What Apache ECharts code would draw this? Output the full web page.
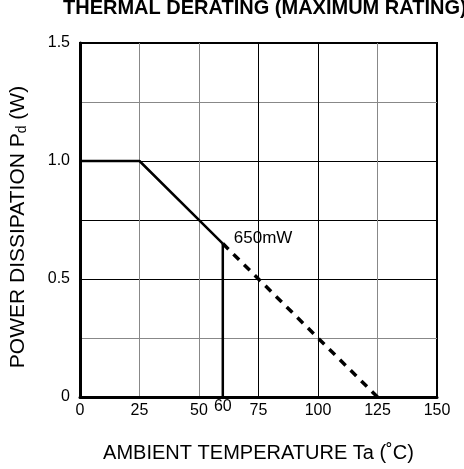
<!DOCTYPE html>
<html>
<head>
<meta charset="utf-8">
<script src="https://cdn.jsdelivr.net/npm/echarts@6/dist/echarts.min.js"></script>
<style>
  html, body { margin: 0; padding: 0; background: #fff; }
  #chart { width: 464px; height: 469px; }
</style>
</head>
<body>
<div id="chart"></div>
<script>
// derating curve (Ta in degC, Pd in W)
var flatPart = [[0, 1.0], [25, 1.0], [60, 0.65]];
var cutoffPart = [[60, 0.65], [60, 0]];
var extendedPart = [[60, 0.65], [125, 0]];
var xTicks = [0, 25, 50, 75, 100, 125, 150];
var extraXTick = [60];
var pointLabel = '650mW';

var chart = echarts.init(document.getElementById('chart'));
var font = 'Liberation Sans, Arial, sans-serif';

var option = {
  animation: false,
  title: {
    text: 'THERMAL DERATING (MAXIMUM RATING)',
    left: 58,
    top: -7,
    textStyle: { fontFamily: font, fontSize: 20, fontWeight: 'bold', color: '#000' }
  },
  grid: {
    left: 80, right: 27, top: 43, bottom: 72,
    show: true, borderColor: '#000', borderWidth: 2
  },
  xAxis: [{
    type: 'value', min: 0, max: 150, interval: 25,
    axisLine: { show: true, onZero: false, lineStyle: { color: '#000', width: 3 } },
    axisTick: { show: false },
    splitLine: { show: true, lineStyle: { width: 1, color: ['#000', '#888', '#888', '#000', '#000', '#888', '#000'] } },
    axisLabel: { color: '#000', fontFamily: font, fontSize: 16, margin: 6, customValues: xTicks },
    name: 'AMBIENT TEMPERATURE Ta (˚C)',
    nameLocation: 'middle', nameGap: 46,
    nameTextStyle: { color: '#000', fontFamily: font, fontSize: 20 }
  }, {
    type: 'value', min: 0, max: 150, position: 'bottom',
    axisLine: { show: false }, axisTick: { show: false }, splitLine: { show: false },
    axisLabel: { color: '#000', fontFamily: font, fontSize: 16, margin: 2, customValues: extraXTick }
  }],
  yAxis: {
    type: 'value', min: 0, max: 1.5, interval: 0.25,
    axisLine: { show: true, onZero: false, lineStyle: { color: '#000', width: 3 } },
    axisTick: { show: false },
    splitLine: { show: true, lineStyle: { width: 1, color: ['#000', '#888', '#000', '#000', '#000', '#888', '#000'] } },
    axisLabel: {
      color: '#000', fontFamily: font, fontSize: 16, margin: 10,
      formatter: function (v) {
        if (v === 0) return '0';
        if (Math.round(v * 4) % 2) return '';
        return v.toFixed(1);
      }
    },
    name: '{n|POWER DISSIPATION P}{s|d}{n| (W)}',
    nameLocation: 'middle', nameGap: 51,
    nameTextStyle: {
      color: '#000', fontFamily: font, fontSize: 21, padding: [0, 14, 0, 0],
      rich: {
        n: { color: '#000', fontFamily: font, fontSize: 21 },
        s: { color: '#000', fontFamily: font, fontSize: 14, verticalAlign: 'bottom', padding: [7, 0, 0, 0] }
      }
    }
  },
  series: [{
    type: 'line', data: flatPart.map(function (p, i) {
      if (i === flatPart.length - 1) {
        return { value: p, label: { show: true, formatter: pointLabel, position: [11, -14],
          color: '#000', fontFamily: font, fontSize: 17 } };
      }
      return p;
    }),
    showSymbol: true, symbol: 'circle', symbolSize: 0.01,
    lineStyle: { color: '#000', width: 2.5 }
  }, {
    type: 'line', data: cutoffPart, symbol: 'none',
    lineStyle: { color: '#000', width: 2.5 }
  }, {
    type: 'line', data: extendedPart, symbol: 'none',
    lineStyle: { color: '#000', width: 3.5, type: [8, 7] }
  }]
};

chart.setOption(option);
</script>
</body>
</html>
